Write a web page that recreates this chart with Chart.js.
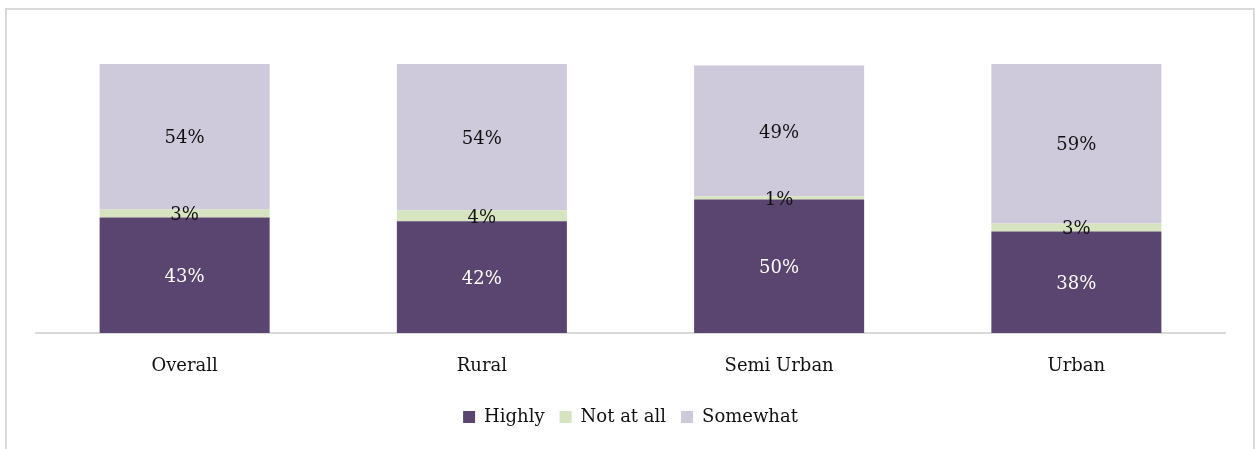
<!DOCTYPE html>
<html>
<head>
<meta charset="utf-8">
<script src="https://cdn.jsdelivr.net/npm/chart.js@4.4.1/dist/chart.umd.min.js"></script>
<style>
  html, body { margin: 0; padding: 0; background: #fff; }
  #frame {
    position: absolute; left: 5px; top: 8px; width: 1250px; height: 460px;
    border: 2px solid #d9d9d9; box-sizing: border-box;
  }
  #wrap { position: absolute; left: 0; top: 0; width: 1255px; height: 449px; }
</style>
</head>
<body>
<div id="frame"></div>
<div id="wrap"><canvas id="chart"></canvas></div>
<script>
/* --------------- Data --------------------- */
const categories = ["Overall", "Rural", "Semi Urban", "Urban"];
const highly = [42.9, 41.5, 49.6, 37.7];
const notAtAll = [3.0, 4.1, 1.2, 3.0];
const somewhat = [54.1, 54.4, 48.6, 59.3];

const FONT = "'DejaVu Serif', serif";

/* --------------- Labels in the middle of each piece --------------------- */
const pieceLabels = {
  id: "pieceLabels",
  afterDatasetsDraw(chart) {
    const ctx = chart.ctx;
    ctx.save();
    ctx.font = "18px " + FONT;
    ctx.textAlign = "center";
    ctx.textBaseline = "middle";
    chart.data.datasets.forEach((ds, i) => {
      const meta = chart.getDatasetMeta(i);
      meta.data.forEach((bar, j) => {
        const y = (bar.y + bar.base) / 2 + 2;
        ctx.fillStyle = ds.labelColor;
        ctx.fillText(Math.round(ds.data[j]) + "%", bar.x, y);
      });
    });
    ctx.restore();
  },
};

new Chart(document.getElementById("chart"), {
  type: "bar",
  plugins: [pieceLabels],
  data: {
    labels: categories,
    datasets: [
      { label: "Highly", data: highly, backgroundColor: "#5a4570", labelColor: "#ffffff" },
      { label: "Not at all", data: notAtAll, backgroundColor: "#d7e4c0", labelColor: "#111111" },
      { label: "Somewhat", data: somewhat, backgroundColor: "#cfcadb", labelColor: "#111111" },
    ],
  },
  options: {
    responsive: true,
    maintainAspectRatio: false,
    animation: false,
    datasets: { bar: { barPercentage: 0.572, categoryPercentage: 1 } },
    layout: { padding: { left: 36, right: 30, top: 64, bottom: 13 } },
    scales: {
      x: {
        stacked: true,
        grid: { display: false },
        border: { color: "#d9d9d9", width: 2 },
        ticks: { color: "#111", font: { family: FONT, size: 18 }, padding: 15 },
        afterFit: (s) => { s.height = 60; },
      },
      y: { stacked: true, display: false, min: 0, max: 100 },
    },
    plugins: {
      tooltip: { enabled: false },
      legend: {
        position: "bottom",
        labels: {
          color: "#111",
          font: { family: FONT, size: 18 },
          boxWidth: 12,
          boxHeight: 12,
          padding: 15,
        },
      },
    },
  },
});
</script>
</body>
</html>
